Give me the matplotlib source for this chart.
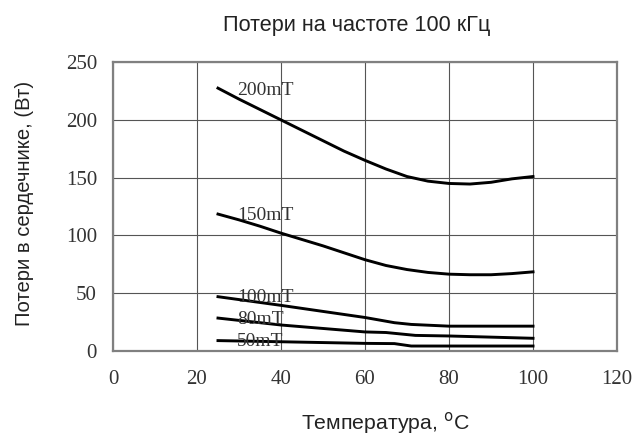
import matplotlib
matplotlib.use('Agg')
import matplotlib.pyplot as plt

# температуры и потери (Вт) для каждой индукции
t_200 = [25, 30, 35, 40, 45, 50, 55, 60, 65, 70, 75, 80, 85, 90, 95, 100]
p_200 = [227.5, 218, 209, 200, 191, 182, 173, 165, 157.5, 151, 147, 145,
         144.5, 146, 149, 151]

t_150 = [25, 30, 35, 40, 45, 50, 55, 60, 65, 70, 75, 80, 85, 90, 95, 100]
p_150 = [118.5, 113.5, 108, 102, 96.5, 91, 85, 79, 74, 70.5, 68, 66.5,
         66, 66, 67, 68.5]

t_100 = [25, 40, 60, 67, 71, 80, 100]
p_100 = [47, 39.5, 29, 24.5, 23, 21.5, 21.5]

t_80 = [25, 40, 60, 65, 72, 80, 100]
p_80 = [28.5, 22.5, 16.5, 16, 13.5, 13, 11]

t_50 = [25, 40, 60, 67, 71, 80, 100]
p_50 = [9, 8, 6.6, 6.4, 4.3, 4.3, 4.3]

series = [
    ('200mT', t_200, p_200, 29.5, 225.5),
    ('150mT', t_150, p_150, 29.5, 117),
    ('100mT', t_100, p_100, 29.5, 46),
    ('80mT', t_80, p_80, 29.5, 27.5),
    ('50mT', t_50, p_50, 29.5, 8),
]

x_ticks = [0, 20, 40, 60, 80, 100, 120]
y_ticks = [0, 50, 100, 150, 200, 250]

sans = ['Liberation Sans', 'DejaVu Sans']
serif = ['Liberation Serif', 'DejaVu Serif']

fig = plt.figure(figsize=(6.34, 4.37), dpi=100)
ax = fig.add_axes([0.1782, 0.1968, 0.795, 0.661])

for name, t, p, lx, ly in series:
    ax.plot(t, p, color='black', lw=2.1, zorder=3)
    ax.text(lx, ly, name, family=serif, fontsize=14, va='center', ha='left',
            color='#333333', zorder=4)

ax.set_xlim(0, 120)
ax.set_ylim(0, 250)
ax.set_xticks(x_ticks)
ax.set_yticks(y_ticks)
ax.grid(True, color='#555555', lw=0.8)
ax.set_axisbelow(True)
ax.tick_params(length=0, labelsize=15, colors='#333333')
ax.tick_params(axis='x', pad=14)
ax.tick_params(axis='y', pad=11.5)
for lab in ax.get_xticklabels() + ax.get_yticklabels():
    lab.set_family(serif)
for sp in ax.spines.values():
    sp.set_color('#808080')
    sp.set_linewidth(1.6)

ax.set_xlabel('Температура, $^{\\mathrm{o}}$C', family=sans, fontsize=15.3,
              color='#222222')
ax.xaxis.label.set_va('baseline')
ax.xaxis.set_label_coords(0.54, -0.273)
ax.set_ylabel('Потери в сердечнике, (Вт)', family=sans, fontsize=14.6,
              color='#222222')
ax.yaxis.label.set_va('center')
ax.yaxis.set_label_coords(-0.175, 0.512)
fig.text(0.563, 0.929, 'Потери на частоте 100 кГц', family=sans, fontsize=15.6,
         ha='center', va='baseline', color='#222222')

fig.savefig('out.png', dpi=100)
